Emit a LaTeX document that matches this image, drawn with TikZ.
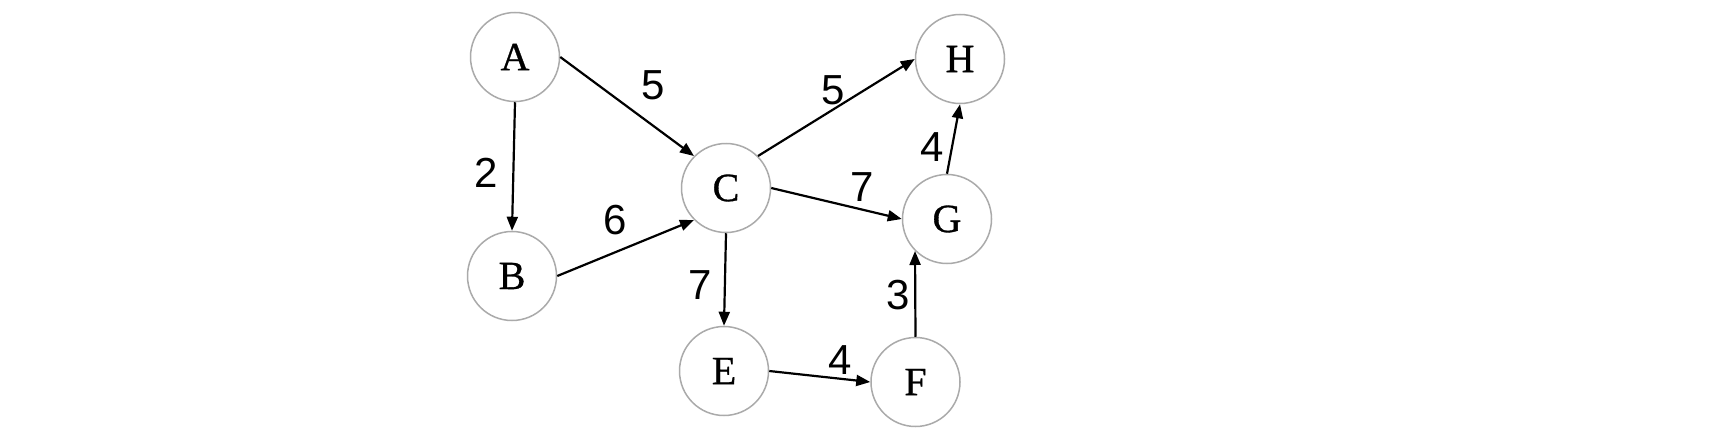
\documentclass[tikz,border=0pt]{standalone}
\usepackage{fontspec}
\setmainfont{Liberation Serif}
\newfontfamily\vtxfont[FakeBold=0.8]{Liberation Serif}
\newfontfamily\labfont{Liberation Sans}
\usetikzlibrary{arrows.meta}
\definecolor{ringgray}{HTML}{AAAAAA}
\begin{document}
\begin{tikzpicture}[x=1pt,y=-1pt,
  vtx/.style={circle,draw=ringgray,line width=1.5pt,minimum size=89pt,inner sep=0pt,
    font=\vtxfont\fontsize{40}{48}\selectfont},
  wlab/.style={inner sep=0pt,font=\labfont\fontsize{42}{50}\selectfont},
  edge/.style={line width=2.2pt,-{Triangle[length=14pt,width=11pt]}}]
\useasboundingbox[fill=white] (0,0) rectangle (1732,428);
\node[vtx] (A) at (515,57) {A};
\node[vtx] (B) at (512,276) {B};
\node[vtx] (C) at (726,188) {C};
\node[vtx] (E) at (724,371) {E};
\node[vtx] (F) at (915.5,382) {F};
\node[vtx] (G) at (947,219) {G};
\node[vtx] (H) at (960,59) {H};
\draw[edge] (A.south) -- (B.north);
\draw[edge] (A.east) -- (C.north west);
\draw[edge] (B.east) -- (C.south west);
\draw[edge] (C.north east) -- (H.west);
\draw[edge] (C.east) -- (G.west);
\draw[edge] (C.south) -- (E.north);
\draw[edge] (E.east) -- (F.west);
\draw[edge] (F.north) -- (G.south west);
\draw[edge] (G.north) -- (H.south);
\node[wlab] (l1) at (486,173) {2};
\node[wlab] (l2) at (653,85) {5};
\node[wlab] (l3) at (615,220) {6};
\node[wlab] (l4) at (833,90) {5};
\node[wlab] (l5) at (862,187) {7};
\node[wlab] (l6) at (700,285) {7};
\node[wlab] (l7) at (840,360) {4};
\node[wlab] (l8) at (898,295) {3};
\node[wlab] (l9) at (932,147) {4};
\end{tikzpicture}
\end{document}
